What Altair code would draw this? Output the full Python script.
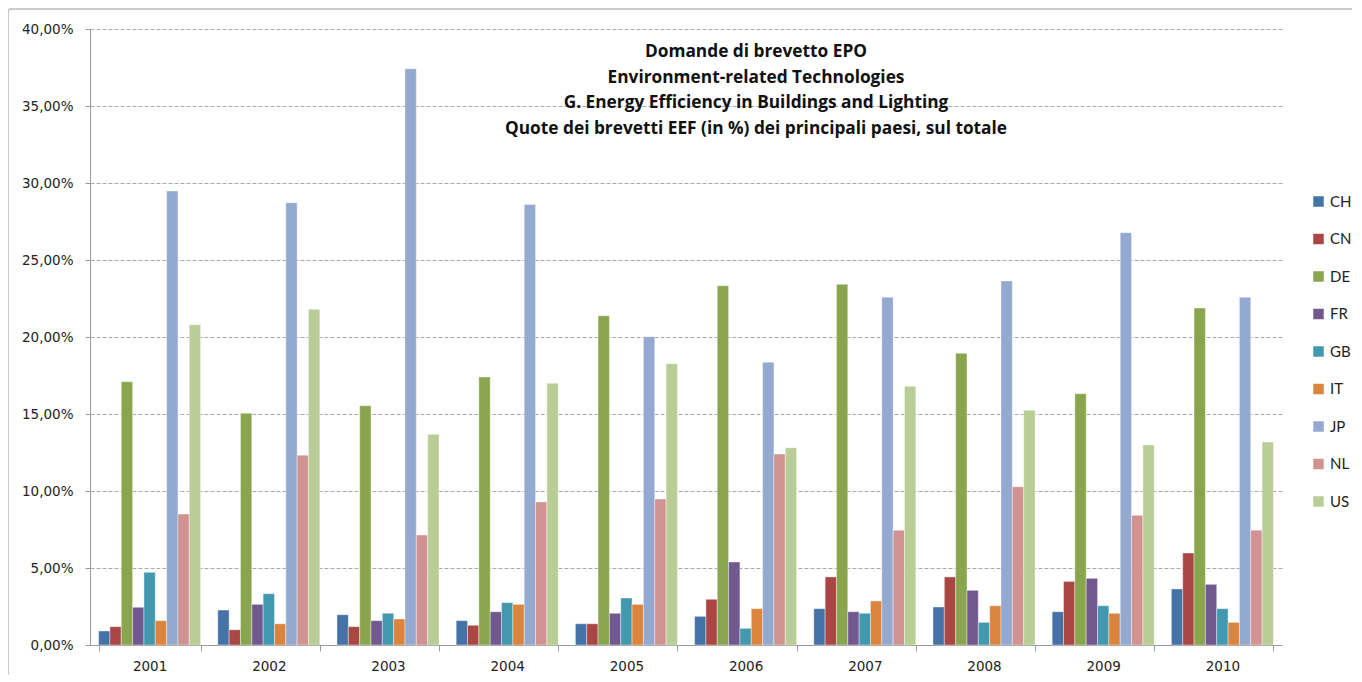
import altair as alt
import pandas as pd

years = ["2001", "2002", "2003", "2004", "2005", "2006", "2007", "2008", "2009", "2010"]
countries = ["CH", "CN", "DE", "FR", "GB", "IT", "JP", "NL", "US"]
colors = ["#4572A7", "#AA4643", "#89A54E", "#71588F", "#4198AF", "#DB843D", "#93A9CF", "#D19392", "#B9CD96"]

CH = [0.91, 2.27, 1.97, 1.58, 1.38, 1.86, 2.36, 2.47, 2.16, 3.64]
CN = [1.19, 0.99, 1.19, 1.28, 1.38, 2.97, 4.42, 4.42, 4.13, 5.97]
DE = [17.1, 15.05, 15.54, 17.4, 21.38, 23.33, 23.42, 18.94, 16.32, 21.88]
FR = [2.45, 2.64, 1.58, 2.16, 2.06, 5.39, 2.16, 3.55, 4.33, 3.94]
GB = [4.72, 3.33, 2.06, 2.75, 3.05, 1.08, 2.06, 1.47, 2.55, 2.36]
IT = [1.58, 1.38, 1.69, 2.64, 2.64, 2.36, 2.86, 2.55, 2.06, 1.47]
JP = [29.48, 28.72, 37.42, 28.6, 20.02, 18.36, 22.58, 23.64, 26.77, 22.58]
NL = [8.5, 12.32, 7.14, 9.29, 9.48, 12.4, 7.45, 10.28, 8.42, 7.45]
US = [20.8, 21.8, 13.68, 17.0, 18.27, 12.81, 16.8, 15.24, 12.99, 13.18]

title_lines = [
    "Domande di brevetto EPO",
    "Environment-related Technologies",
    "G. Energy Efficiency in Buildings and Lighting",
    "Quote dei brevetti EEF (in %) dei principali paesi, sul totale",
]

series = {"CH": CH, "CN": CN, "DE": DE, "FR": FR, "GB": GB, "IT": IT, "JP": JP, "NL": NL, "US": US}
rows = []
for c in countries:
    for y, v in zip(years, series[c]):
        rows.append({"year": y, "country": c, "value": v})
df = pd.DataFrame(rows)

FONT = "Open Sans"
AXFONT = "DejaVu Sans"
W, H = 1192, 616

bars = alt.Chart(df).mark_bar(stroke="white", strokeWidth=0.4).encode(
    x=alt.X("year:N", sort=years, title=None,
            scale=alt.Scale(paddingInner=0.144, paddingOuter=0.072),
            axis=alt.Axis(labelAngle=0, labelFontSize=13.5, labelFont=AXFONT, labelColor="#222",
                          domainColor="#999", tickColor="#999", tickSize=6, tickBand="extent",
                          labelPadding=8, grid=False)),
    xOffset=alt.XOffset("country:N", sort=countries, scale=alt.Scale(paddingInner=0, paddingOuter=0)),
    y=alt.Y("value:Q", title=None,
            scale=alt.Scale(domain=[0, 40], nice=False),
            axis=alt.Axis(values=[0, 5, 10, 15, 20, 25, 30, 35, 40],
                          labelExpr="replace(format(datum.value, '.2f'), '.', ',') + '%'",
                          labelFontSize=13.5, labelFont=AXFONT, labelColor="#222", labelPadding=12,
                          domainColor="#999", tickColor="#999", tickSize=5,
                          grid=True, gridColor="#aaa", gridDash=[4, 2], gridWidth=1)),
    color=alt.Color("country:N", sort=countries,
                    scale=alt.Scale(domain=countries, range=colors),
                    legend=alt.Legend(title=None, orient="none", legendX=1221, legendY=165,
                                      symbolType="square", symbolSize=110, symbolStrokeWidth=0,
                                      labelFontSize=15, labelFont="Lato", labelColor="#222",
                                      rowPadding=21.5, labelOffset=4)),
)

border = alt.Chart(alt.Data(values=[{"a": 1}])).mark_rect(
    fill="transparent", stroke="#bbb", strokeWidth=1.5, cornerRadius=3, clip=False
).encode(
    x=alt.value(-82), x2=alt.value(W + 90),
    y=alt.value(-20), y2=alt.value(H + 60),
)

chart = alt.layer(bars, border).properties(
    width=W, height=H,
    padding={"left": 82, "top": 21, "right": 70, "bottom": 30},
    autosize=alt.AutoSizeParams(type="none"),
    title=alt.TitleParams(text=title_lines, font=FONT, fontSize=17.3, fontWeight="bold",
                          color="#111", anchor="middle", lineHeight=25.5, dx=70, dy=133),
).configure_view(stroke=None)

chart.save("out.html", embed_options={"renderer": "svg", "actions": False})
